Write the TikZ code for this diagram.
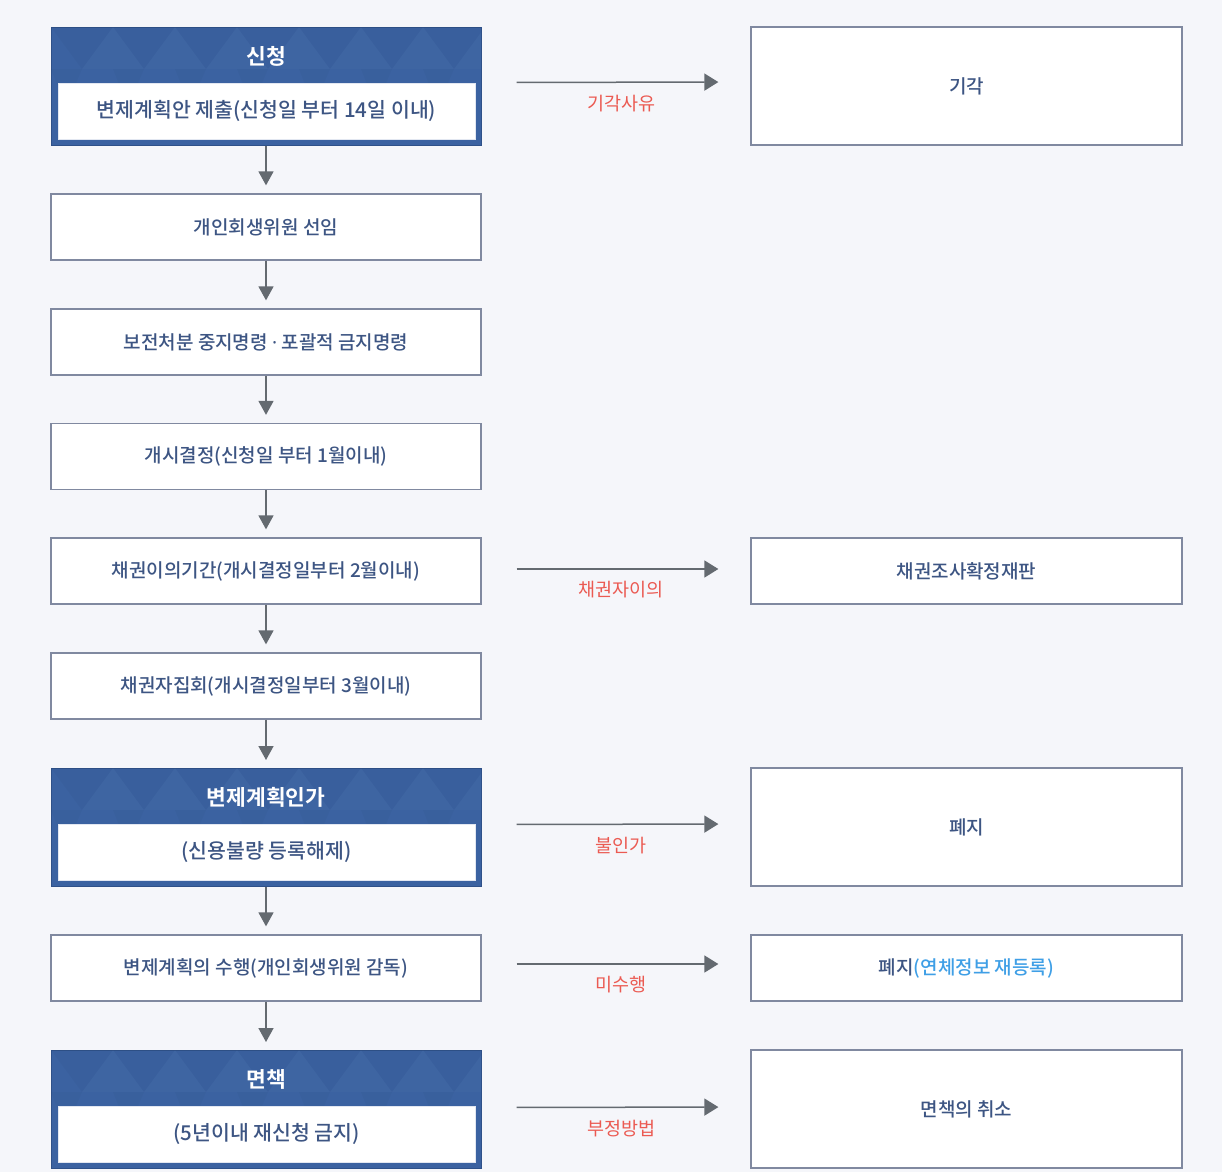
\documentclass[tikz,border=0pt]{standalone}
\usepackage{fontspec}
\usetikzlibrary{arrows.meta}
\newfontfamily\kr{Noto Sans CJK KR}
\newfontfamily\lat{Noto Sans}
\IfFontExistsTF{Noto Sans CJK KR Medium}{\newfontfamily\krm{Noto Sans CJK KR Medium}}{\newfontfamily\krm{Noto Sans CJK KR}[FakeBold=1.2]}
\IfFontExistsTF{Noto Sans CJK KR Bold}{\newfontfamily\krb{Noto Sans CJK KR Bold}}{\newfontfamily\krb{Noto Sans CJK KR}[FakeBold=2]}
\definecolor{bgc}{HTML}{F5F6FA}
\definecolor{boxline}{HTML}{8089A0}
\definecolor{txt}{HTML}{3D5583}
\definecolor{hblue}{HTML}{3B62A1}
\definecolor{hblueline}{HTML}{2F5189}
\definecolor{lred}{HTML}{EB5A52}
\definecolor{agray}{HTML}{646A70}
\definecolor{lblue}{HTML}{3F9FE6}
\tikzset{
  wbox/.style={draw=boxline, line width=1.3pt, fill=white, minimum width=430pt, minimum height=66pt, inner sep=0pt,
     font=\fontsize{19}{22}\selectfont\krm, text=txt},
  rbox/.style={wbox, minimum width=431pt},
  bbox/.style={draw=hblueline, line width=1pt, fill=hblue, minimum width=430pt, minimum height=118pt, inner sep=0pt},
  btitle/.style={font=\fontsize{21.5}{24}\selectfont\krb, text=white, inner sep=0pt},
  binner/.style={fill=white, draw=white!85!hblue, line width=0.6pt, minimum width=417pt, minimum height=56pt, inner sep=0pt,
     font=\fontsize{20.5}{24}\selectfont\krm, text=txt},
  varrow/.style={draw=agray, line width=1.5pt, -{Triangle[width=15pt,length=14pt]}, shorten >=8pt},
  harrow/.style={draw=agray, line width=1.5pt, -{Triangle[width=17pt,length=14pt]}, shorten <=35pt, shorten >=32pt},
  lab/.style={font=\fontsize{18.5}{21}\selectfont\kr, text=lred, inner sep=0pt}
}
\newcommand\mybluebox[4]{%
  \node[bbox, anchor=north] (#1) at (266,#2) {};
  \begin{scope}
    \clip (51,#2) rectangle (481,{#2+118});
    \foreach \i in {0,...,7}{
      \fill[black, opacity=0.025] ({51+\i*62},#2) -- ({113+\i*62},#2) -- ({82+\i*62},{#2+42}) -- cycle;
      \fill[white, opacity=0.02] ({82+\i*62},{#2+42}) -- ({113+\i*62},#2) -- ({144+\i*62},{#2+42}) -- cycle;
      \fill[black, opacity=0.02] ({51+\i*62},{#2+42}) -- ({82+\i*62},{#2+42}) -- ({66+\i*62},{#2+80}) -- cycle;
    }
  \end{scope}
  \node[btitle] (#1t) at (266,{#2+29}) {#3};
  \node[binner] (#1i) at (266.5,{#2+84}) {#4};
}
\begin{document}
\begin{tikzpicture}[x=1pt,y=-1pt]
\useasboundingbox (0,0) rectangle (1222,1172);
\fill[bgc] (0,0) rectangle (1222,1172);

% left column
\mybluebox{b1}{27}{신청}{변제계획안 제출(신청일 부터 14일 이내)}
\node[wbox] (b2) at (266,227) {개인회생위원 선임};
\node[wbox] (b3) at (266,342) {보전처분 중지명령 {\lat ·} 포괄적 금지명령};
\node[wbox] (b4) at (266,456.5) {개시결정(신청일 부터 1월이내)};
\node[wbox] (b5) at (266,571) {채권이의기간(개시결정일부터 2월이내)};
\node[wbox] (b6) at (266,686) {채권자집회(개시결정일부터 3월이내)};
\mybluebox{b7}{768}{변제계획인가}{(신용불량 등록해제)}
\node[wbox] (b8) at (266,968) {변제계획의 수행(개인회생위원 감독)};
\mybluebox{b9}{1050}{면책}{(5년이내 재신청 금지)}

% right column
\node[rbox, minimum height=118pt] (r1) at (966.5,86) {기각};
\node[rbox] (r2) at (966.5,571) {채권조사확정재판};
\node[rbox, minimum height=118pt] (r3) at (966.5,827) {폐지};
\node[rbox] (r4) at (966.5,968) {폐지\textcolor{lblue}{(연체정보 재등록)}};
\node[rbox, minimum height=118pt] (r5) at (966.5,1109) {면책의 취소};

% vertical arrows
\draw[varrow] (b1) -- (b2);
\draw[varrow] (b2) -- (b3);
\draw[varrow] (b3) -- (b4);
\draw[varrow] (b4) -- (b5);
\draw[varrow] (b5) -- (b6);
\draw[varrow] (b6) -- (b7);
\draw[varrow] (b7) -- (b8);
\draw[varrow] (b8) -- (b9);

% horizontal arrows
\draw[harrow] ([yshift=4pt]b1.east) -- node[lab, pos=0.52, yshift=-21pt] (l1) {기각사유} ([yshift=4pt]r1.west);
\draw[harrow] ([yshift=2pt]b5.east) -- node[lab, pos=0.52, yshift=-21pt] (l2) {채권자이의} ([yshift=2pt]r2.west);
\draw[harrow] ([yshift=3pt]b7.east) -- node[lab, pos=0.52, yshift=-21pt] (l3) {불인가} ([yshift=3pt]r3.west);
\draw[harrow] ([yshift=4pt]b8.east) -- node[lab, pos=0.52, yshift=-21pt] (l4) {미수행} ([yshift=4pt]r4.west);
\draw[harrow] ([yshift=2pt]b9.east) -- node[lab, pos=0.52, yshift=-21pt] (l5) {부정방법} ([yshift=2pt]r5.west);
\end{tikzpicture}
\end{document}
